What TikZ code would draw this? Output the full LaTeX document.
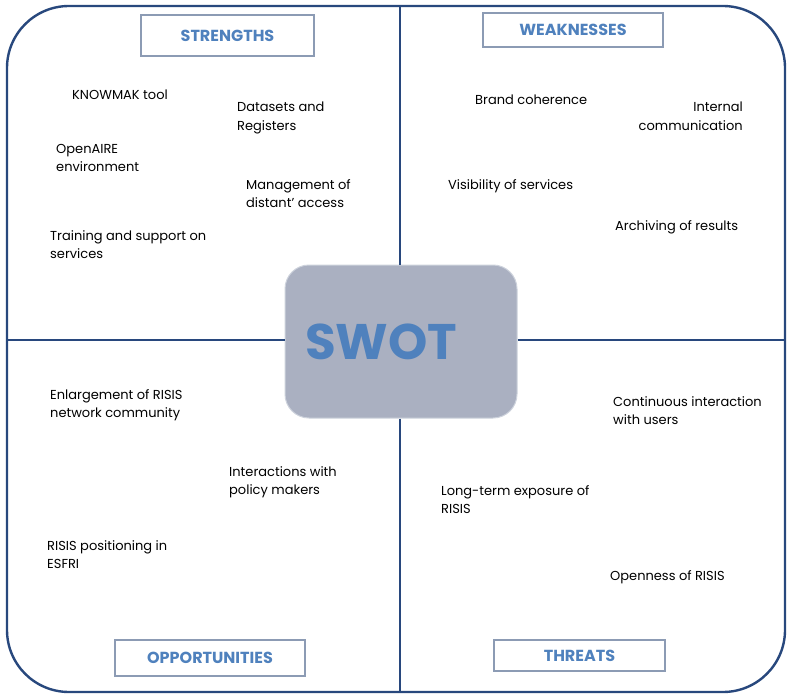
\documentclass[tikz,border=0pt]{standalone}
\usepackage{fontspec}
\setmainfont{Poppins}
\definecolor{frameblue}{RGB}{40,72,125}
\definecolor{headgray}{RGB}{140,155,180}
\definecolor{headblue}{RGB}{79,129,189}
\definecolor{swotfill}{RGB}{170,176,193}
\definecolor{swotedge}{RGB}{205,210,220}
\begin{document}
\begin{tikzpicture}[x=1pt,y=-1pt,
  headbox/.style={draw=headgray,line width=1.6pt,fill=white,inner sep=0pt,
    font=\fontsize{16}{16}\selectfont\bfseries,text=headblue},
  item/.style={inner sep=0pt,anchor=north west,align=left,
    font=\fontsize{13}{18.5}\selectfont,text=black}]
\useasboundingbox (0,0) rectangle (787,695);
\fill[white] (0,0) rectangle (787,695);
\draw[frameblue,line width=2.4pt,rounded corners=62pt] (7,6) rectangle (785,692);
\node[draw=swotedge,line width=1pt,fill=swotfill,rounded corners=24pt,
  minimum width=232pt,minimum height=153pt,inner sep=0pt] (swot) at (401,341.5) {};
\node[anchor=west,inner sep=0pt,text=headblue,font=\fontsize{50}{50}\selectfont\bfseries] (swott) at (305,342) {SWOT};
\coordinate (vt) at (400,6);
\coordinate (vb) at (400,692);
\coordinate (hl) at (7,340);
\coordinate (hr) at (785,340);
\draw[frameblue,line width=2.4pt] (vt) -- (vt|-swot.north);
\draw[frameblue,line width=2.4pt] (swot.south-|vb) -- (vb);
\draw[frameblue,line width=2.4pt] (hl) -- (hl-|swot.west);
\draw[frameblue,line width=2.4pt] (swot.east|-hr) -- (hr);
\node[headbox,minimum width=173pt,minimum height=41pt] (s) at (227.5,35.5) {STRENGTHS};
\node[headbox,minimum width=180pt,minimum height=34pt] (w) at (573,30) {WEAKNESSES};
\node[headbox,minimum width=190pt,minimum height=36pt] (o) at (210,658) {OPPORTUNITIES};
\node[headbox,minimum width=171pt,minimum height=31pt] (t) at (579.5,655.5) {THREATS};
\node[item] (s1) at (72,90) {KNOWMAK tool};
\node[item] (s2) at (237,102) {Datasets and\\Registers};
\node[item] (s3) at (56,144) {OpenAIRE\\environment};
\node[item] (s4) at (246,179) {Management of\\distant' access};
\node[item] (s5) at (50,230) {Training and support on\\services};
\node[item] (w1) at (475,95) {Brand coherence};
\node[item,anchor=north east,align=right] (w2) at (743,102) {Internal\\communication};
\node[item] (w3) at (448,179) {Visibility of services};
\node[item] (w4) at (615,220) {Archiving of results};
\node[item] (o1) at (50,389) {Enlargement of RISIS\\network community};
\node[item] (o2) at (229,466) {Interactions with\\policy makers};
\node[item] (o3) at (47,540) {RISIS positioning in\\ESFRI};
\node[item] (t1) at (613,396) {Continuous interaction\\with users};
\node[item] (t2) at (441,485) {Long-term exposure of\\RISIS};
\node[item] (t3) at (610,570) {Openness of RISIS};
\end{tikzpicture}
\end{document}
